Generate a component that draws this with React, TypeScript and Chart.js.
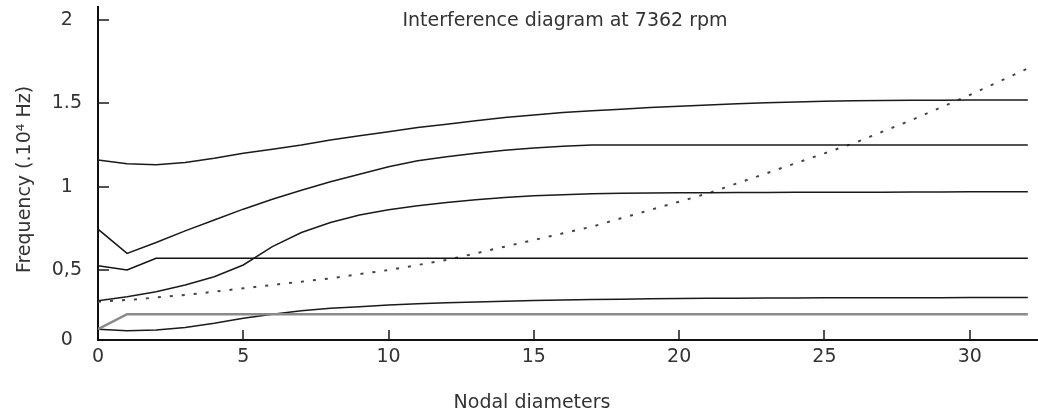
import React, { useEffect, useRef } from 'react';
import { Chart, registerables } from 'chart.js';

Chart.register(...registerables);

// ---- data (frequency in 10^4 Hz vs nodal diameter) ----
const nodalDiameters = [0, 1, 2, 3, 4, 5, 6, 7, 8, 9, 10, 11, 12, 13, 14, 15, 16, 17, 18, 19, 20, 21, 22, 23, 24, 25, 26, 27, 28, 29, 30, 31, 32];

const modeTop = [1.16, 1.137, 1.132, 1.145, 1.17, 1.2, 1.225, 1.25, 1.28, 1.305, 1.33, 1.355, 1.375, 1.395, 1.415, 1.43, 1.445, 1.455, 1.465, 1.475, 1.482, 1.49, 1.497, 1.503, 1.508, 1.512, 1.515, 1.517, 1.518, 1.519, 1.52, 1.52, 1.52];
const modeSecond = [0.745, 0.6, 0.665, 0.735, 0.8, 0.865, 0.925, 0.978, 1.03, 1.075, 1.12, 1.155, 1.18, 1.2, 1.218, 1.232, 1.243, 1.25, 1.25, 1.25, 1.25, 1.25, 1.25, 1.25, 1.25, 1.25, 1.25, 1.25, 1.25, 1.25, 1.25, 1.25, 1.25];
const modeThird = [0.315, 0.34, 0.37, 0.41, 0.46, 0.53, 0.64, 0.725, 0.785, 0.83, 0.862, 0.885, 0.905, 0.922, 0.935, 0.945, 0.952, 0.957, 0.96, 0.962, 0.963, 0.964, 0.965, 0.965, 0.966, 0.966, 0.967, 0.967, 0.968, 0.968, 0.969, 0.97, 0.97];
const modeFlat = [0.525, 0.5, 0.57, 0.57, 0.57, 0.57, 0.57, 0.57, 0.57, 0.57, 0.57, 0.57, 0.57, 0.57, 0.57, 0.57, 0.57, 0.57, 0.57, 0.57, 0.57, 0.57, 0.57, 0.57, 0.57, 0.57, 0.57, 0.57, 0.57, 0.57, 0.57, 0.57, 0.57];
const excitation = [0.31, 0.32, 0.335, 0.35, 0.37, 0.39, 0.41, 0.43, 0.45, 0.475, 0.5, 0.53, 0.56, 0.6, 0.64, 0.68, 0.72, 0.76, 0.81, 0.86, 0.91, 0.96, 1.02, 1.08, 1.14, 1.2, 1.26, 1.33, 1.4, 1.475, 1.55, 1.63, 1.71];
const modeLow = [0.145, 0.135, 0.14, 0.155, 0.18, 0.21, 0.235, 0.255, 0.27, 0.28, 0.29, 0.297, 0.303, 0.308, 0.313, 0.317, 0.32, 0.323, 0.325, 0.327, 0.329, 0.33, 0.331, 0.332, 0.332, 0.333, 0.333, 0.334, 0.334, 0.334, 0.335, 0.335, 0.335];
const modeGrey = [0.145, 0.235, 0.235, 0.235, 0.235, 0.235, 0.235, 0.235, 0.235, 0.235, 0.235, 0.235, 0.235, 0.235, 0.235, 0.235, 0.235, 0.235, 0.235, 0.235, 0.235, 0.235, 0.235, 0.235, 0.235, 0.235, 0.235, 0.235, 0.235, 0.235, 0.235, 0.235, 0.235];

const xTickValues = [0, 5, 10, 15, 20, 25, 30];
const xTickLabels = ['0', '5', '10', '15', '20', '25', '30'];
const yTickValues = [0.08, 0.5, 1, 1.5, 2];
const yTickLabels = ['0', '0,5', '1', '1.5', '2'];
const xRange = [0, 32.35];
const yRange = [0.08, 2.078];

const chartTitle = 'Interference diagram at 7362 rpm';
const xTitle = 'Nodal diameters';
const yTitle = 'Frequency (.10\u2074 Hz)';

const FONT = '"DejaVu Sans", sans-serif';
const TEXT = '#333333';

const pts = (arr: number[]) => nodalDiameters.map((n, i) => ({ x: n, y: arr[i] }));

const overlay = {
  id: 'overlay',
  afterDraw(chart: any) {
    const { ctx, chartArea, scales } = chart;
    ctx.save();
    ctx.strokeStyle = '#1a1a1a';
    ctx.lineWidth = 1.5;
    ctx.beginPath();
    xTickValues.forEach((v) => {
      if (v === xRange[0]) return;
      const px = Math.round(scales.x.getPixelForValue(v));
      ctx.moveTo(px, chartArea.bottom);
      ctx.lineTo(px, chartArea.bottom - 10);
    });
    yTickValues.forEach((v) => {
      if (v === yRange[0]) return;
      const py = Math.round(scales.y.getPixelForValue(v));
      ctx.moveTo(chartArea.left, py);
      ctx.lineTo(chartArea.left + 11, py);
    });
    ctx.stroke();

    ctx.fillStyle = TEXT;
    ctx.font = `19px ${FONT}`;
    ctx.textAlign = 'center';
    ctx.textBaseline = 'alphabetic';
    const cx = (chartArea.left + chartArea.right) / 2;
    ctx.fillText(chartTitle, cx - 3, chartArea.top + 19);
    ctx.fillText(xTitle, cx - 36, chartArea.bottom + 68);

    ctx.translate(30, (chartArea.top + chartArea.bottom) / 2 + 6);
    ctx.rotate(-Math.PI / 2);
    ctx.fillText(yTitle, 0, 0);
    ctx.restore();
  },
};

export default function App() {
  const ref = useRef<HTMLCanvasElement | null>(null);

  useEffect(() => {
    document.body.style.margin = '0';
    const canvas = ref.current;
    if (!canvas) return;
    const line = (data: number[], color: string, width: number, dash: number[] = []) => ({
      data: pts(data),
      borderColor: color,
      borderWidth: width,
      borderDash: dash,
      pointRadius: 0,
      tension: 0,
      fill: false,
    });
    const chart = new Chart(canvas, {
      type: 'line',
      data: {
        datasets: [
          line(modeGrey, '#8a8a8a', 2.5),
          line(modeLow, '#1a1a1a', 1.5),
          line(modeFlat, '#111111', 1.5),
          line(modeThird, '#1a1a1a', 1.5),
          line(modeSecond, '#1a1a1a', 1.5),
          line(modeTop, '#1a1a1a', 1.5),
          line(excitation, '#444444', 2, [3, 9]),
        ],
      },
      options: {
        animation: false,
        responsive: false,
        devicePixelRatio: 1,
        layout: { padding: { top: 7, left: 0, right: 0, bottom: 0 } },
        plugins: { legend: { display: false }, tooltip: { enabled: false }, title: { display: false } },
        scales: {
          x: {
            type: 'linear',
            min: xRange[0],
            max: xRange[1],
            afterBuildTicks: (s: any) => {
              s.ticks = xTickValues.map((v) => ({ value: v }));
            },
            afterFit: (s: any) => {
              s.height = 74;
              s.paddingLeft = 0;
              s.paddingRight = 0;
              s.paddingTop = 0;
              s.paddingBottom = 0;
            },
            grid: { display: false, drawTicks: false },
            border: { display: true, color: '#111111', width: 2 },
            ticks: {
              padding: 6,
              color: TEXT,
              font: { family: FONT, size: 19 },
              maxRotation: 0,
              callback: (_v: any, i: number) => xTickLabels[i],
            },
          },
          y: {
            type: 'linear',
            min: yRange[0],
            max: yRange[1],
            afterBuildTicks: (s: any) => {
              s.ticks = yTickValues.map((v) => ({ value: v }));
            },
            afterFit: (s: any) => {
              s.width = 98;
              s.paddingLeft = 0;
              s.paddingRight = 0;
              s.paddingTop = 0;
              s.paddingBottom = 0;
            },
            grid: { display: false, drawTicks: false },
            border: { display: true, color: '#111111', width: 2 },
            ticks: {
              padding: 16,
              crossAlign: 'center',
              color: TEXT,
              font: { family: FONT, size: 19 },
              callback: (_v: any, i: number) => yTickLabels[i],
            },
          },
        },
      },
      plugins: [overlay],
    } as any);
    return () => chart.destroy();
  }, []);

  return (
    <div style={{ width: 1038, height: 414 }}>
      <canvas ref={ref} width={1038} height={414} style={{ display: 'block' }} />
    </div>
  );
}
